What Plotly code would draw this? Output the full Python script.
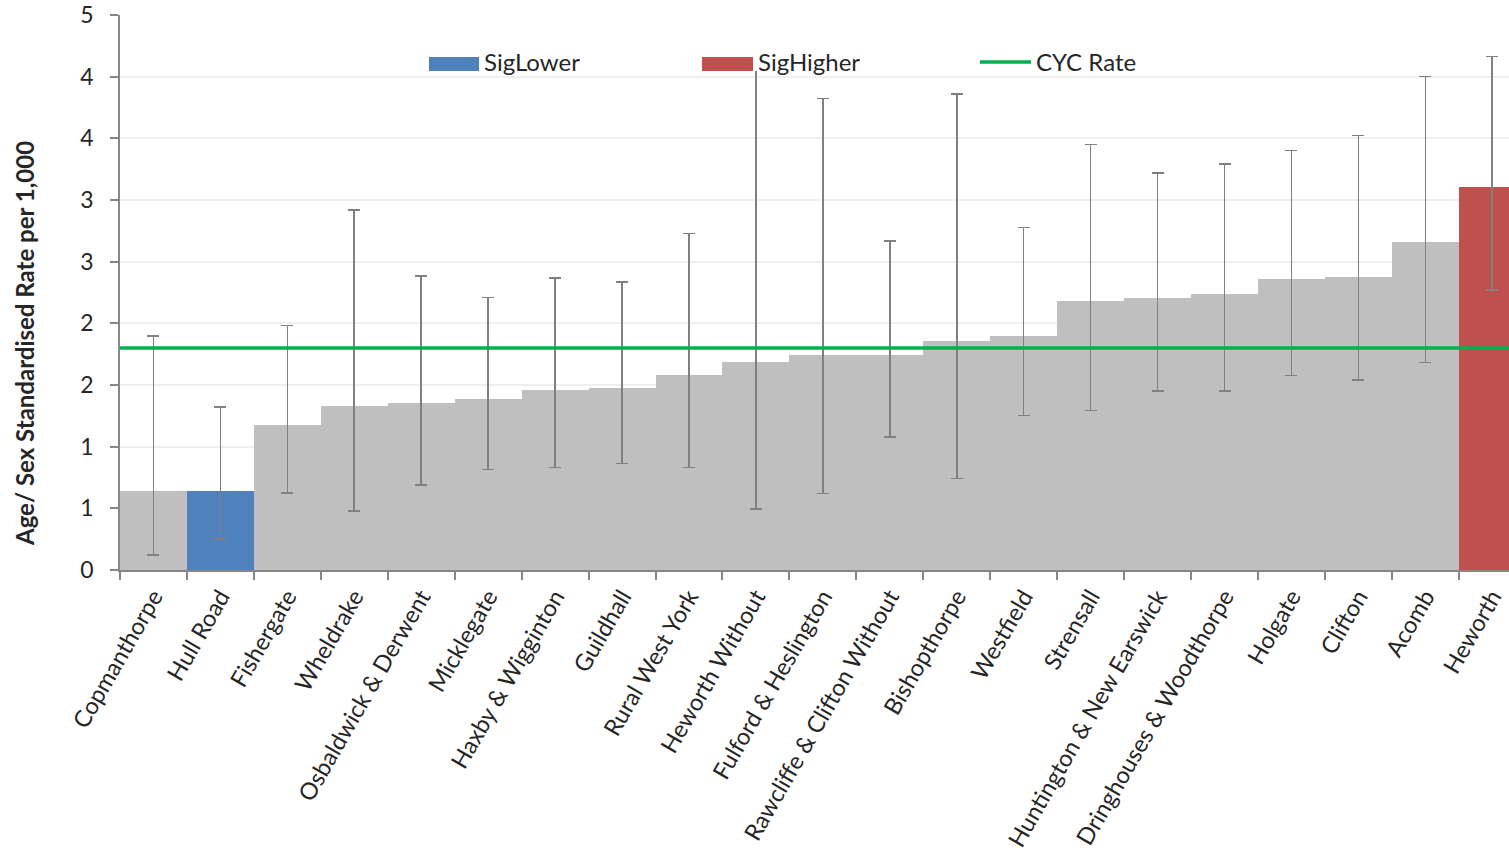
import plotly.graph_objects as go

# Ward-level age/sex standardised rates per 1,000 with 95% confidence limits
wards = [
    "Copmanthorpe", "Hull Road", "Fishergate", "Wheldrake", "Osbaldwick & Derwent",
    "Micklegate", "Haxby & Wigginton", "Guildhall", "Rural West York", "Heworth Without",
    "Fulford & Heslington", "Rawcliffe & Clifton Without", "Bishopthorpe", "Westfield",
    "Strensall", "Huntington & New Earswick", "Dringhouses & Woodthorpe", "Holgate",
    "Clifton", "Acomb", "Heworth",
]
rates = [
    0.643, 0.643, 1.176, 1.332, 1.351, 1.386, 1.457, 1.473, 1.581, 1.689,
    1.743, 1.743, 1.859, 1.900, 2.184, 2.203, 2.235, 2.360, 2.378, 2.662, 3.108,
]
upper_ci = [
    1.895, 1.324, 1.981, 2.919, 2.386, 2.211, 2.368, 2.335, 2.727, 4.100,
    3.822, 2.670, 3.859, 2.778, 3.449, 3.219, 3.292, 3.400, 3.522, 4.000, 4.162,
]
lower_ci = [
    0.122, 0.249, 0.622, 0.478, 0.689, 0.816, 0.832, 0.865, 0.832, 0.495,
    0.619, 1.078, 0.743, 1.254, 1.292, 1.451, 1.451, 1.576, 1.541, 1.681, 2.270,
]
significance = [
    "", "SigLower", "", "", "", "", "", "", "", "",
    "", "", "", "", "", "", "", "", "", "", "SigHigher",
]
cyc_rate = 1.80

ytick_values = [0, 0.5, 1.0, 1.5, 2.0, 2.5, 3.0, 3.5, 4.0, 4.5]
ytick_labels = ["0", "1", "1", "2", "2", "3", "3", "4", "4", "5"]

GREY = "#BFBFBF"
BLUE = "#4F81BD"
RED = "#C0504D"
GREEN = "#00B050"
ERR = "#808080"
TEXT = "#262626"
FONT = "Lato"

palette = {"": GREY, "SigLower": BLUE, "SigHigher": RED}
bar_colors = [palette[s] for s in significance]

fig = go.Figure()
fig.add_trace(go.Bar(
    x=wards,
    y=rates,
    width=1.0,
    marker=dict(color=bar_colors, line=dict(width=0)),
    error_y=dict(
        type="data",
        symmetric=False,
        array=[u - r for u, r in zip(upper_ci, rates)],
        arrayminus=[r - l for r, l in zip(rates, lower_ci)],
        color=ERR,
        thickness=1.6,
        width=6,
    ),
    showlegend=False,
    hoverinfo="x+y",
))

# CYC reference line
fig.add_shape(
    type="line", xref="paper", x0=0, x1=1, yref="y", y0=cyc_rate, y1=cyc_rate,
    line=dict(color=GREEN, width=3.5), layer="above",
)

# Plot area in pixels: left 120, right 1509, top 15, bottom 570
W, H = 1509, 858
L, R, T, B = 120, 1509, 15, 570


def px(x):
    return (x - L) / (R - L)


def py(y):
    return (B - y) / (B - T)


# Legend box (white fill) with swatches and labels
fig.add_shape(type="rect", xref="paper", yref="paper",
              x0=px(420), x1=px(1145), y0=py(71), y1=py(44),
              fillcolor="white", line=dict(width=0), layer="above")
legend_items = [
    ("SigLower", BLUE, "rect", 429, 479),
    ("SigHigher", RED, "rect", 702, 753),
    ("CYC Rate", GREEN, "line", 980, 1031),
]
for name, col, kind, x0, x1 in legend_items:
    if kind == "rect":
        fig.add_shape(type="rect", xref="paper", yref="paper",
                      x0=px(x0), x1=px(x1), y0=py(71), y1=py(57),
                      fillcolor=col, line=dict(width=0), layer="above")
    else:
        fig.add_shape(type="line", xref="paper", yref="paper",
                      x0=px(x0), x1=px(x1), y0=py(62), y1=py(62),
                      line=dict(color=col, width=3.5), layer="above")
    fig.add_annotation(
        text=name, xref="paper", yref="paper", x=px(x1 + 3), y=py(61),
        xanchor="left", yanchor="middle", showarrow=False,
        font=dict(family=FONT, size=24, color=TEXT),
    )

fig.add_annotation(
    text="<b>Age/ Sex Standardised Rate per 1,000</b>",
    xref="paper", yref="paper", x=px(25), y=py(344),
    xanchor="center", yanchor="middle", textangle=-90, showarrow=False,
    font=dict(family=FONT, size=24, color=TEXT),
)

fig.update_layout(
    width=W, height=H,
    margin=dict(l=L, r=W - R, t=T, b=H - B, pad=0, autoexpand=False),
    plot_bgcolor="white", paper_bgcolor="white",
    bargap=0,
    font=dict(family=FONT, size=22, color=TEXT),
)
fig.update_xaxes(
    type="category",
    range=[-0.5, 20.25],
    automargin=False,
    showline=True, linecolor="#868686", linewidth=1.5,
    ticks="outside", ticklen=8, tickcolor="#868686", tickwidth=1.5,
    tickson="boundaries",
    tickangle=-60,
    ticklabelstandoff=2,
    tickfont=dict(family=FONT, size=23.5, color=TEXT),
    showgrid=False,
)
fig.update_yaxes(
    range=[0, 4.5],
    automargin=False,
    tickvals=ytick_values, ticktext=ytick_labels,
    showline=True, linecolor="#868686", linewidth=1.5,
    ticks="outside", ticklen=8, tickcolor="#868686", tickwidth=1.5,
    ticklabelstandoff=12,
    tickfont=dict(family=FONT, size=23, color=TEXT),
    showgrid=True, gridcolor="#EFEFEF", gridwidth=1.5,
    zeroline=False,
)

fig.write_html("out.html")
